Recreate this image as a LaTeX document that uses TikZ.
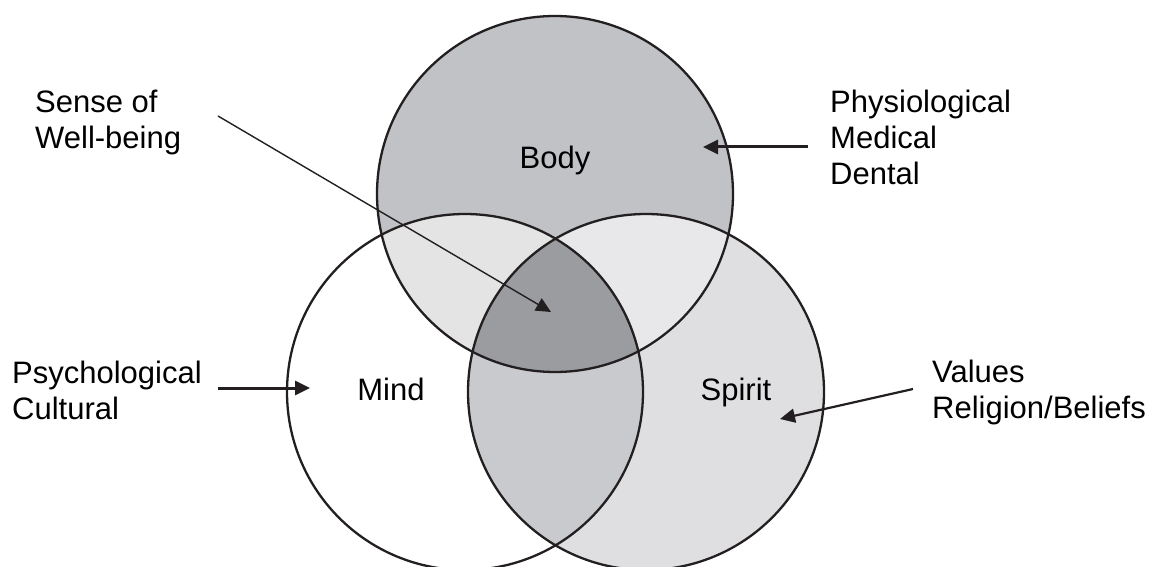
\documentclass[tikz,border=0pt]{standalone}
\usepackage{fontspec}
\setmainfont{Liberation Sans}
\usetikzlibrary{arrows.meta}
\definecolor{ink}{HTML}{231F20}
\definecolor{bodyfill}{HTML}{C1C2C6}
\definecolor{spiritfill}{HTML}{DFDFE1}
\definecolor{bmfill}{HTML}{E4E4E5}
\definecolor{bsfill}{HTML}{E8E8EA}
\definecolor{msfill}{HTML}{C9CACD}
\definecolor{corefill}{HTML}{9A9CA0}
\begin{document}
\begin{tikzpicture}[x=1pt,y=-1pt,
  ring/.style={draw=ink,line width=2.3pt},
  lbl/.style={anchor=base west,inner sep=0pt,font=\fontsize{31}{36}\selectfont},
  word/.style={anchor=base,inner sep=0pt,font=\fontsize{31}{36}\selectfont},
  pointer/.style={draw=ink,-{Triangle[length=15pt,width=14pt]}}]
\useasboundingbox (0,0) rectangle (1154,567);
\def\R{178}
% circle centres
\coordinate (cb) at (555,194);
\coordinate (cm) at (465,392);
\coordinate (cs) at (646,392);
% region fills
\fill[bodyfill] (cb) circle[radius=\R];
\fill[spiritfill] (cs) circle[radius=\R];
\begin{scope}
  \clip (cb) circle[radius=\R];
  \fill[bmfill] (cm) circle[radius=\R];
  \fill[bsfill] (cs) circle[radius=\R];
\end{scope}
\begin{scope}
  \clip (cm) circle[radius=\R];
  \fill[msfill] (cs) circle[radius=\R];
  \clip (cb) circle[radius=\R];
  \fill[corefill] (cs) circle[radius=\R];
\end{scope}
% outlines
\draw[ring] (cb) circle[radius=\R];
\draw[ring] (cm) circle[radius=\R];
\draw[ring] (cs) circle[radius=\R];
% circle names
\node[word] (body) at (555,168) {Body};
\node[word] (mind) at (391,400) {Mind};
\node[word] (spirit) at (736,400) {Spirit};
% side labels
\node[lbl] (sense) at (35,113) {\begin{tabular}[t]{@{}l@{}}Sense of\\Well-being\end{tabular}};
\node[lbl] (physio) at (830,113) {\begin{tabular}[t]{@{}l@{}}Physiological\\Medical\\Dental\end{tabular}};
\node[lbl] (psych) at (12,383) {\begin{tabular}[t]{@{}l@{}}Psychological\\Cultural\end{tabular}};
\node[lbl] (values) at (932,382) {\begin{tabular}[t]{@{}l@{}}Values\\Religion/Beliefs\end{tabular}};
% pointer ends
\coordinate (senseA) at (218,116);
\coordinate (senseB) at (551,312);
\coordinate (physA) at (808,147);
\coordinate (physB) at (703,147);
\coordinate (psyA) at (218,388);
\coordinate (psyB) at (310,388);
\coordinate (valA) at (913,389);
\coordinate (valB) at (780,419);
\draw[pointer,line width=1.4pt] (senseA) -- (senseB);
\draw[pointer,line width=3pt] (physA) -- (physB);
\draw[pointer,line width=3pt] (psyA) -- (psyB);
\draw[pointer,line width=2.2pt] (valA) -- (valB);
\end{tikzpicture}
\end{document}
